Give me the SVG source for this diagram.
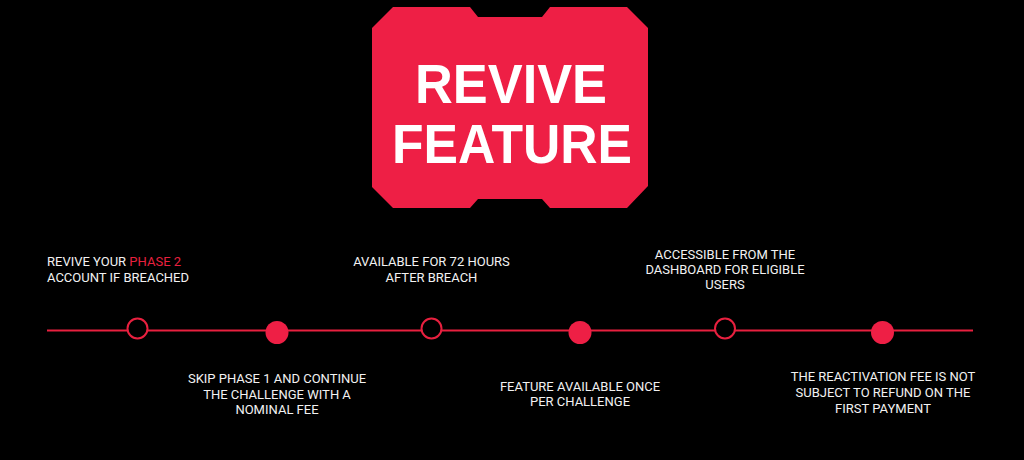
<svg xmlns="http://www.w3.org/2000/svg" width="1024" height="460" viewBox="0 0 1024 460">
<style>
.bg{fill:#000}
.badge{fill:#EE1F45}
.title{font-family:"Liberation Sans",Arial,sans-serif;font-weight:bold;font-size:56px;fill:#fff;text-anchor:middle}
.lbl{font-family:Roboto,"Liberation Sans",Arial,sans-serif;font-size:13px;fill:#f2f2f2}
.mid{text-anchor:middle}
.red{fill:#E8203F}
.hollow{fill:#000;stroke:#E8203F;stroke-width:2}
.filled{fill:#EE1F45}
.conn{stroke:#E8203F;stroke-width:2;fill:none}
</style>
<rect class="bg" x="0" y="0" width="1024" height="460"/>
<g id="connectors">
<line class="conn" x1="47" y1="330.5" x2="973" y2="330.5"/>
</g>
<g id="title-badge">
<polygon class="badge" points="372,28 393,7 470,7 478,17 542,17 550,7 627,7 648,28 648,186 627,208 550,208 542,199 478,199 470,208 393,208 372,187"/>
<text class="title" x="511" y="103" textLength="192" lengthAdjust="spacingAndGlyphs">REVIVE</text>
<text class="title" x="512" y="163" textLength="240" lengthAdjust="spacingAndGlyphs">FEATURE</text>
</g>
<g id="step1">
<circle class="hollow" cx="137.5" cy="328.5" r="10"/>
<text class="lbl" x="47" y="266">REVIVE YOUR <tspan class="red">PHASE 2</tspan></text>
<text class="lbl" x="47" y="282">ACCOUNT IF BREACHED</text>
</g>
<g id="step2">
<circle class="filled" cx="277" cy="332.5" r="11.5"/>
<text class="lbl mid" x="277" y="383">SKIP PHASE 1 AND CONTINUE</text>
<text class="lbl mid" x="277" y="398.5">THE CHALLENGE WITH A</text>
<text class="lbl mid" x="277" y="413.5">NOMINAL FEE</text>
</g>
<g id="step3">
<circle class="hollow" cx="431.5" cy="328.5" r="10"/>
<text class="lbl mid" x="431.5" y="266">AVAILABLE FOR 72 HOURS</text>
<text class="lbl mid" x="431.5" y="282">AFTER BREACH</text>
</g>
<g id="step4">
<circle class="filled" cx="580" cy="332.5" r="11.5"/>
<text class="lbl mid" x="580" y="391">FEATURE AVAILABLE ONCE</text>
<text class="lbl mid" x="580" y="406">PER CHALLENGE</text>
</g>
<g id="step5">
<circle class="hollow" cx="725" cy="328.5" r="10"/>
<text class="lbl mid" x="725" y="258.5">ACCESSIBLE FROM THE</text>
<text class="lbl mid" x="725" y="273.5">DASHBOARD FOR ELIGIBLE</text>
<text class="lbl mid" x="725" y="288.5">USERS</text>
</g>
<g id="step6">
<circle class="filled" cx="882.5" cy="332.5" r="11.5"/>
<text class="lbl mid" x="883" y="381">THE REACTIVATION FEE IS NOT</text>
<text class="lbl mid" x="883" y="396.5">SUBJECT TO REFUND ON THE</text>
<text class="lbl mid" x="883" y="412.5">FIRST PAYMENT</text>
</g>
</svg>
